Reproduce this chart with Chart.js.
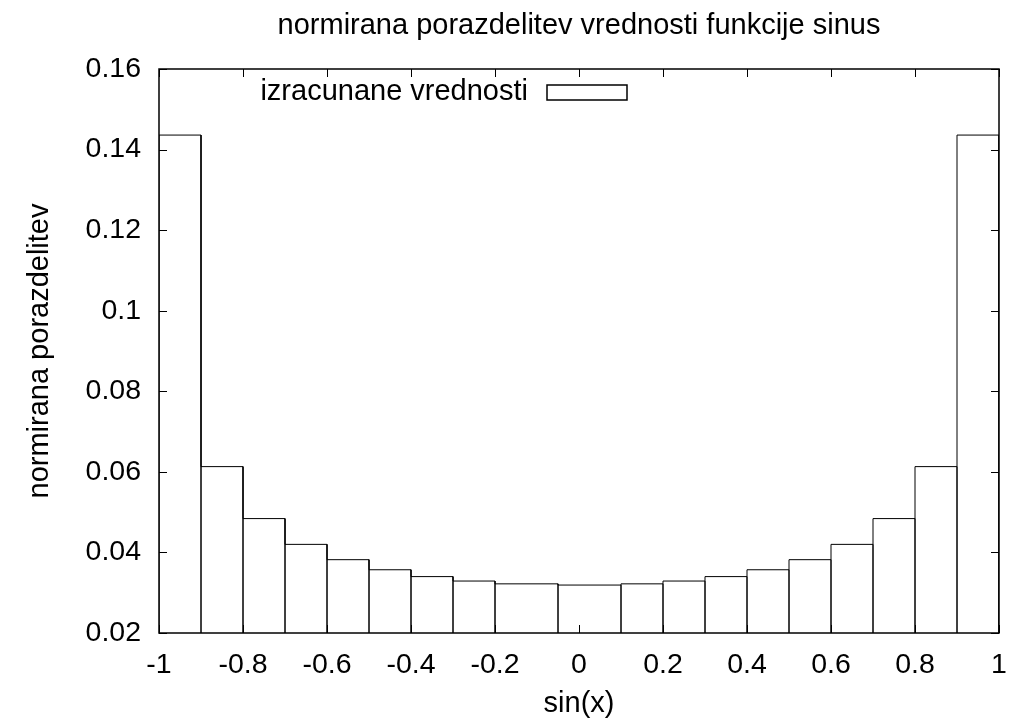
<!DOCTYPE html>
<html>
<head>
<meta charset="utf-8">
<title>normirana porazdelitev vrednosti funkcije sinus</title>
<script src="https://cdn.jsdelivr.net/npm/chart.js@4/dist/chart.umd.min.js"></script>
<style>
  html, body { margin: 0; padding: 0; background: #fff; }
  canvas { display: block; }
</style>
</head>
<body>
<canvas id="histChart" width="1013" height="727"></canvas>
<script>
// box centres as written by the histogram program (bin around -0.05 is missing)
const binCenters = [-0.95, -0.85, -0.75, -0.65, -0.55, -0.45, -0.35, -0.25, -0.15,
                    0.05, 0.15, 0.25, 0.35, 0.45, 0.55, 0.65, 0.75, 0.85, 0.95];
const binValues = [0.1436, 0.0613, 0.0484, 0.0420, 0.0382, 0.0357, 0.0340, 0.0329, 0.0322,
                   0.0319, 0.0322, 0.0329, 0.0340, 0.0357, 0.0382, 0.0420, 0.0484, 0.0613, 0.1436];
const xTicks = [-1, -0.8, -0.6, -0.4, -0.2, 0, 0.2, 0.4, 0.6, 0.8, 1];
const yTicks = [0.02, 0.04, 0.06, 0.08, 0.1, 0.12, 0.14, 0.16];
const seriesName = "izracunane vrednosti";

const FONT = "'Liberation Sans', Arial, Helvetica, sans-serif";
const yMin = yTicks[0];
const yMax = yTicks[yTicks.length - 1];

// boxes like gnuplot "with boxes": each box reaches halfway to its neighbours
function boxOutline(centers, values, base) {
  const pts = [];
  const n = centers.length;
  for (let i = 0; i < n; i++) {
    const left = i === 0 ? centers[0] - (centers[1] - centers[0]) / 2 : (centers[i - 1] + centers[i]) / 2;
    const right = i === n - 1 ? centers[n - 1] + (centers[n - 1] - centers[n - 2]) / 2 : (centers[i] + centers[i + 1]) / 2;
    pts.push({ x: left, y: base }, { x: left, y: values[i] }, { x: right, y: values[i] }, { x: right, y: base });
  }
  return pts;
}

// frame with inward ticks on all four sides plus the key in the upper left
const gnuplotFrame = {
  id: "gnuplotFrame",
  afterDatasetsDraw(chart) {
    const { ctx, chartArea: a, scales: { x, y } } = chart;
    const tick = 8;
    ctx.save();
    ctx.strokeStyle = "#000";
    ctx.lineWidth = 1;
    ctx.beginPath();
    xTicks.forEach(v => {
      const px = Math.round(x.getPixelForValue(v)) + 0.5;
      ctx.moveTo(px, a.bottom); ctx.lineTo(px, a.bottom - tick);
      ctx.moveTo(px, a.top); ctx.lineTo(px, a.top + tick);
    });
    yTicks.forEach(v => {
      const py = Math.round(y.getPixelForValue(v)) + 0.5;
      ctx.moveTo(a.left, py); ctx.lineTo(a.left + tick, py);
      ctx.moveTo(a.right, py); ctx.lineTo(a.right - tick, py);
    });
    ctx.stroke();

    ctx.lineWidth = 1.5;
    ctx.strokeRect(a.left, a.top, a.right - a.left, a.bottom - a.top);

    // key
    const keyY = a.top + 23;
    ctx.font = "29px " + FONT;
    ctx.fillStyle = "#000";
    ctx.textAlign = "right";
    ctx.textBaseline = "middle";
    ctx.fillText(seriesName, a.left + 369, keyY);
    ctx.lineWidth = 1.5;
    ctx.fillStyle = "#fff";
    ctx.fillRect(a.left + 388, keyY - 7, 80, 15);
    ctx.strokeRect(a.left + 388, keyY - 7, 80, 15);
    ctx.restore();
  }
};

Chart.defaults.color = "#000";
Chart.defaults.font.family = FONT;

new Chart(document.getElementById("histChart"), {
  type: "scatter",
  data: {
    datasets: [{
      label: seriesName,
      data: boxOutline(binCenters, binValues, yMin),
      showLine: true,
      fill: false,
      borderColor: "#000",
      borderWidth: 1,
      pointRadius: 0,
      tension: 0
    }]
  },
  options: {
    responsive: false,
    animation: false,
    events: [],
    layout: { padding: { top: 0, right: 14, bottom: 0, left: 0 } },
    plugins: {
      legend: { display: false },
      tooltip: { enabled: false },
      title: {
        display: true,
        fullSize: false,
        text: "normirana porazdelitev vrednosti funkcije sinus",
        color: "#000",
        font: { size: 29, weight: "normal", lineHeight: 1.2 },
        padding: { top: 9, bottom: 25.2 }
      }
    },
    scales: {
      x: {
        type: "linear",
        min: xTicks[0],
        max: xTicks[xTicks.length - 1],
        grid: { display: false, drawTicks: false },
        border: { display: false },
        afterBuildTicks: s => { s.ticks = xTicks.map(v => ({ value: v })); },
        afterFit: s => { s.height = 94; s.paddingLeft = 0; s.paddingRight = 0; },
        ticks: {
          padding: 15,
          maxRotation: 0,
          autoSkip: false,
          font: { size: 28.5 },
          callback: v => String(v)
        },
        title: {
          display: true,
          text: "sin(x)",
          font: { size: 29, lineHeight: 1.2 },
          padding: { top: 0, bottom: 6 }
        }
      },
      y: {
        type: "linear",
        min: yMin,
        max: yMax,
        grid: { display: false, drawTicks: false },
        border: { display: false },
        afterBuildTicks: s => { s.ticks = yTicks.map(v => ({ value: v })); },
        afterFit: s => { s.width = 159; },
        ticks: {
          padding: 18,
          autoSkip: false,
          font: { size: 28.5 },
          callback: v => String(v)
        },
        title: {
          display: true,
          text: "normirana porazdelitev",
          font: { size: 29, lineHeight: 1.2 },
          padding: { top: 23, bottom: 0 }
        }
      }
    }
  },
  plugins: [gnuplotFrame]
});
</script>
</body>
</html>
